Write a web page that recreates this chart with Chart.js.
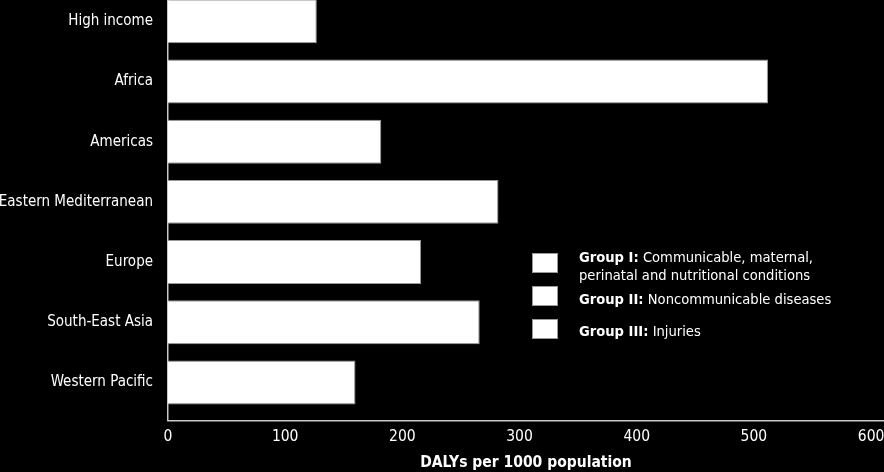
<!DOCTYPE html>
<html>
<head>
<meta charset="utf-8">
<script src="https://cdn.jsdelivr.net/npm/chart.js@4"></script>
<style>
  html, body { margin: 0; padding: 0; background: #000; }
  #wrap { position: relative; width: 884px; height: 472px; }
  #legend { position: absolute; left: 532px; top: 248px; color: #fff;
    font: 14.6px "DejaVu Sans Condensed", "DejaVu Sans", sans-serif; line-height: 18px; }
  #legend .row { position: relative; padding-left: 47px; white-space: nowrap; }
  #legend .box { position: absolute; left: 0; width: 26px; height: 20px; background: #fff; border: 1px solid #999; box-sizing: border-box; }
  #legend b { font-weight: bold; }
</style>
</head>
<body>
<div id="wrap">
  <canvas id="myChart" width="884" height="472"></canvas>
  <div id="legend"></div>
</div>
<script>
// данные
const regions = ['High income', 'Africa', 'Americas', 'Eastern Mediterranean', 'Europe', 'South-East Asia', 'Western Pacific'];
const dalys = [127, 512, 182, 282, 216, 266, 160];
const xTicks = [0, 100, 200, 300, 400, 500, 600];
const groupNames = ['Group I:', 'Group II:', 'Group III:'];
const groupDescr = ['Communicable, maternal,<br>perinatal and nutritional conditions', 'Noncommunicable diseases', 'Injuries'];

const font = '"DejaVu Sans Condensed", "DejaVu Sans", sans-serif';

//region легенда
const boxTops = [5, -4, -3];
const rowGaps = [0, 6, 14];
let legend = document.getElementById('legend');
groupNames.forEach(function (name, i) {
    let row = document.createElement('div');
    row.className = 'row';
    row.style.marginTop = rowGaps[i] + 'px';
    row.innerHTML = '<span class="box" style="top:' + boxTops[i] + 'px"></span><b>' + name + '</b> ' + groupDescr[i];
    legend.appendChild(row);
});
//endregion

//region график
const ctx = document.getElementById('myChart');
let chart = new Chart(ctx, {
    type: 'bar',
    data: {
        datasets: [{
            data: dalys.map((v, i) => ({x: v, y: i})),
            backgroundColor: '#fff',
            borderColor: '#9a9a9a',
            borderWidth: 1,
            barPercentage: 0.73,
            categoryPercentage: 1
        }]
    },
    options: {
        indexAxis: 'y',
        responsive: false,
        animation: false,
        layout: {padding: 0},
        plugins: {legend: {display: false}, tooltip: {enabled: false}},
        scales: {
            x: {
                type: 'linear',
                min: 0,
                max: 611,
                grid: {display: false, drawTicks: false},
                border: {display: true, color: '#c8c8c8', width: 1.5},
                afterBuildTicks: s => { s.ticks = xTicks.map(v => ({value: v})); },
                afterFit: s => { s.height = 51.3; s.paddingLeft = 0; s.paddingRight = 0; },
                ticks: {color: '#fff', font: {family: font, size: 15.5}, padding: 7},
                title: {display: true, text: 'DALYs per 1000 population', color: '#fff',
                    font: {family: font, size: 15.5, weight: 'bold'}, padding: {top: 0, bottom: 0}}
            },
            y: {
                type: 'linear',
                reverse: true,
                offset: false,
                min: -0.354,
                max: 6.635,
                grid: {display: false, drawTicks: false, offset: false},
                border: {display: true, color: '#c8c8c8', width: 1.5},
                afterBuildTicks: s => { s.ticks = regions.map((r, i) => ({value: i})); },
                afterFit: s => { s.width = 168; s.paddingTop = 0; s.paddingBottom = 0; },
                ticks: {color: '#fff', font: {family: font, size: 15}, padding: 15,
                    callback: v => regions[v]}
            }
        }
    }
});
//endregion
</script>
</body>
</html>
